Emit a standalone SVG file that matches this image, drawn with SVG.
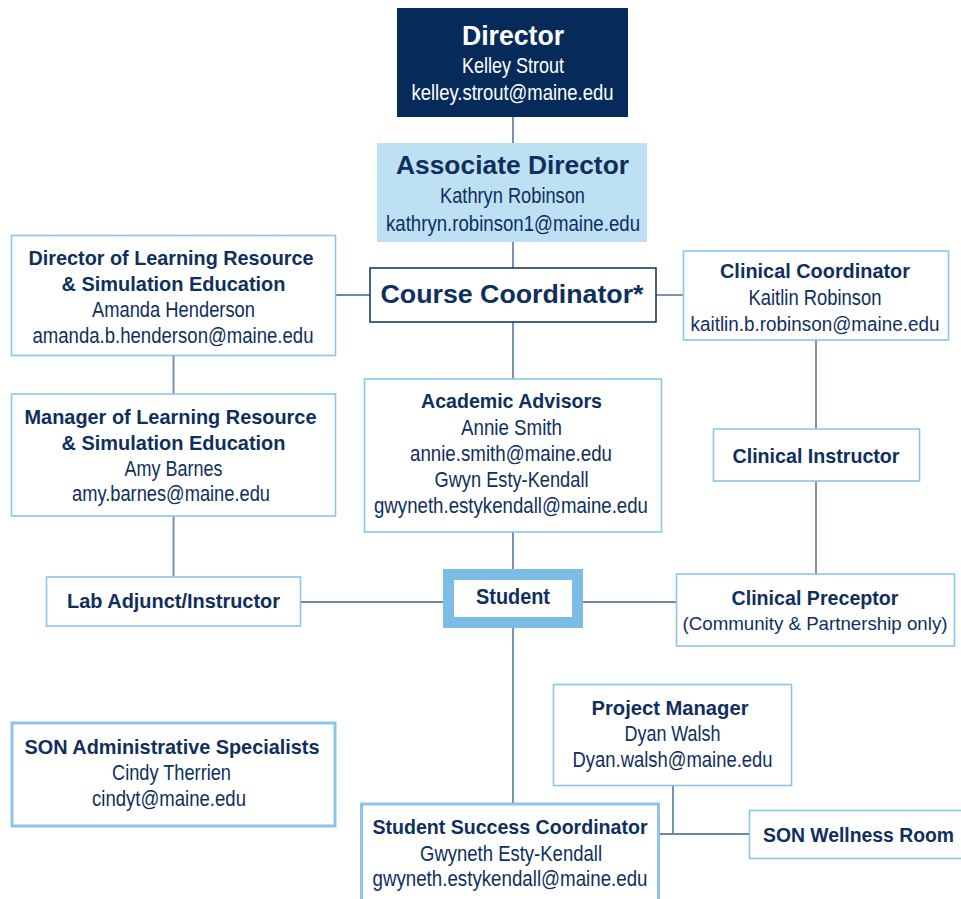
<svg xmlns="http://www.w3.org/2000/svg" width="961" height="899" viewBox="0 0 961 899">
  <style>
    text { font-family: "Liberation Sans", Arial, sans-serif; fill: #0f2f5e; text-anchor: middle; }
    .t { font-weight: 700; font-size: 21px; }
    .r { font-weight: 400; font-size: 22px; }
    .big { font-weight: 700; font-size: 26px; }
    .box { fill: #ffffff; stroke: #8dc5ea; stroke-width: 1.6; }
    .thick { stroke-width: 3; }
    .link { stroke: #6f86a6; stroke-width: 1.8; fill: none; }
  </style>

  <rect width="961" height="899" fill="#ffffff"/>

  <!-- reporting lines -->
  <g id="connectors">
    <line class="link" x1="513" y1="117" x2="513" y2="143"/>
    <line class="link" x1="513" y1="242" x2="513" y2="268"/>
    <line class="link" x1="336" y1="295" x2="370" y2="295"/>
    <line class="link" x1="656" y1="295" x2="683" y2="295"/>
    <line class="link" x1="513" y1="322" x2="513" y2="379"/>
    <line class="link" x1="173.5" y1="356" x2="173.5" y2="394"/>
    <line class="link" x1="173.5" y1="516" x2="173.5" y2="577"/>
    <line class="link" x1="816" y1="340" x2="816" y2="429"/>
    <line class="link" x1="816" y1="481" x2="816" y2="574"/>
    <line class="link" x1="301" y1="602" x2="443" y2="602"/>
    <line class="link" x1="583" y1="602" x2="676" y2="602"/>
    <line class="link" x1="513" y1="532" x2="513" y2="569"/>
    <line class="link" x1="513" y1="628" x2="513" y2="803"/>
    <line class="link" x1="673" y1="786" x2="673" y2="834"/>
    <line class="link" x1="659" y1="834" x2="749" y2="834"/>
  </g>

  <g id="director">
    <rect x="397" y="8" width="231" height="109" fill="#062b5b"/>
    <text x="513" y="45" style="font-weight:700;font-size:27px;fill:#ffffff" textLength="102" lengthAdjust="spacingAndGlyphs">Director</text>
    <text class="r" x="513" y="73" style="fill:#ffffff" textLength="102" lengthAdjust="spacingAndGlyphs">Kelley Strout</text>
    <text class="r" x="512.5" y="100" style="fill:#ffffff" textLength="202" lengthAdjust="spacingAndGlyphs">kelley.strout@maine.edu</text>
  </g>

  <g id="associate-director">
    <rect x="377" y="143" width="270" height="99" fill="#bde0f3"/>
    <text class="big" x="512.5" y="174" textLength="233" lengthAdjust="spacingAndGlyphs">Associate Director</text>
    <text class="r" x="512.5" y="203" textLength="145" lengthAdjust="spacingAndGlyphs">Kathryn Robinson</text>
    <text class="r" x="513" y="231" textLength="254" lengthAdjust="spacingAndGlyphs">kathryn.robinson1@maine.edu</text>
  </g>

  <g id="course-coordinator">
    <rect x="370" y="268" width="286" height="54" fill="#ffffff" stroke="#1b3a66" stroke-width="1.6"/>
    <text class="big" x="512" y="303" textLength="263" lengthAdjust="spacingAndGlyphs">Course Coordinator*</text>
  </g>

  <g id="director-lrse">
    <rect class="box" x="11.5" y="235.5" width="324" height="120"/>
    <text class="t" x="171" y="265" textLength="285" lengthAdjust="spacingAndGlyphs">Director of Learning Resource</text>
    <text class="t" x="173.5" y="291" textLength="224" lengthAdjust="spacingAndGlyphs">&amp; Simulation Education</text>
    <text class="r" x="173.5" y="317" textLength="163" lengthAdjust="spacingAndGlyphs">Amanda Henderson</text>
    <text class="r" x="173" y="343" textLength="281" lengthAdjust="spacingAndGlyphs">amanda.b.henderson@maine.edu</text>
  </g>

  <g id="manager-lrse">
    <rect class="box" x="11.5" y="394" width="324" height="122"/>
    <text class="t" x="170.5" y="424" textLength="292" lengthAdjust="spacingAndGlyphs">Manager of Learning Resource</text>
    <text class="t" x="173.5" y="450" textLength="224" lengthAdjust="spacingAndGlyphs">&amp; Simulation Education</text>
    <text class="r" x="173.5" y="476" textLength="98" lengthAdjust="spacingAndGlyphs">Amy Barnes</text>
    <text class="r" x="171" y="501" textLength="198" lengthAdjust="spacingAndGlyphs">amy.barnes@maine.edu</text>
  </g>

  <g id="lab-adjunct">
    <rect class="box" x="46.5" y="577" width="254" height="49"/>
    <text class="t" x="173.5" y="608" textLength="213" lengthAdjust="spacingAndGlyphs">Lab Adjunct/Instructor</text>
  </g>

  <g id="clinical-coordinator">
    <rect class="box" x="683.5" y="251" width="265" height="89"/>
    <text class="t" x="815" y="278" textLength="190" lengthAdjust="spacingAndGlyphs">Clinical Coordinator</text>
    <text class="r" x="815" y="305" textLength="133" lengthAdjust="spacingAndGlyphs">Kaitlin Robinson</text>
    <text class="r" x="815" y="331" style="font-size:20.5px" textLength="249" lengthAdjust="spacingAndGlyphs">kaitlin.b.robinson@maine.edu</text>
  </g>

  <g id="clinical-instructor">
    <rect class="box" x="713.5" y="429" width="206" height="52"/>
    <text class="t" x="816" y="463" textLength="167" lengthAdjust="spacingAndGlyphs">Clinical Instructor</text>
  </g>

  <g id="clinical-preceptor">
    <rect class="box" x="676.5" y="574" width="278" height="72"/>
    <text class="t" x="815" y="605" textLength="167" lengthAdjust="spacingAndGlyphs">Clinical Preceptor</text>
    <text class="r" x="815" y="630" style="font-size:19px" textLength="265" lengthAdjust="spacingAndGlyphs">(Community &amp; Partnership only)</text>
  </g>

  <g id="academic-advisors">
    <rect class="box" x="364.5" y="379" width="297" height="153"/>
    <text class="t" x="511.5" y="408" textLength="181" lengthAdjust="spacingAndGlyphs">Academic Advisors</text>
    <text class="r" x="511.5" y="435" textLength="101" lengthAdjust="spacingAndGlyphs">Annie Smith</text>
    <text class="r" x="511" y="461" textLength="202" lengthAdjust="spacingAndGlyphs">annie.smith@maine.edu</text>
    <text class="r" x="511.5" y="487" textLength="154" lengthAdjust="spacingAndGlyphs">Gwyn Esty-Kendall</text>
    <text class="r" x="511" y="513" textLength="274" lengthAdjust="spacingAndGlyphs">gwyneth.estykendall@maine.edu</text>
  </g>

  <g id="student">
    <rect x="448.5" y="574.5" width="129" height="48" fill="#ffffff" stroke="#7bbde6" stroke-width="11"/>
    <text class="t" x="513" y="604" style="font-size:22px" textLength="74" lengthAdjust="spacingAndGlyphs">Student</text>
  </g>

  <g id="son-admin">
    <rect class="box thick" x="12" y="723" width="323" height="103"/>
    <text class="t" x="172" y="754" textLength="295" lengthAdjust="spacingAndGlyphs">SON Administrative Specialists</text>
    <text class="r" x="171.5" y="780" textLength="119" lengthAdjust="spacingAndGlyphs">Cindy Therrien</text>
    <text class="r" x="169" y="806" textLength="154" lengthAdjust="spacingAndGlyphs">cindyt@maine.edu</text>
  </g>

  <g id="project-manager">
    <rect class="box" x="553.5" y="684.5" width="238" height="101"/>
    <text class="t" x="670" y="715" textLength="157" lengthAdjust="spacingAndGlyphs">Project Manager</text>
    <text class="r" x="672.5" y="741" textLength="96" lengthAdjust="spacingAndGlyphs">Dyan Walsh</text>
    <text class="r" x="672.5" y="767" textLength="200" lengthAdjust="spacingAndGlyphs">Dyan.walsh@maine.edu</text>
  </g>

  <g id="student-success">
    <rect class="box thick" x="361.5" y="804" width="297" height="110"/>
    <text class="t" x="510" y="834" textLength="275" lengthAdjust="spacingAndGlyphs">Student Success Coordinator</text>
    <text class="r" x="511" y="861" textLength="182" lengthAdjust="spacingAndGlyphs">Gwyneth Esty-Kendall</text>
    <text class="r" x="510" y="886" textLength="275" lengthAdjust="spacingAndGlyphs">gwyneth.estykendall@maine.edu</text>
  </g>

  <g id="wellness-room">
    <rect class="box" x="749.5" y="810.5" width="230" height="48"/>
    <text class="t" x="858.5" y="842" style="font-size:20px" textLength="191" lengthAdjust="spacingAndGlyphs">SON Wellness Room</text>
  </g>
</svg>
